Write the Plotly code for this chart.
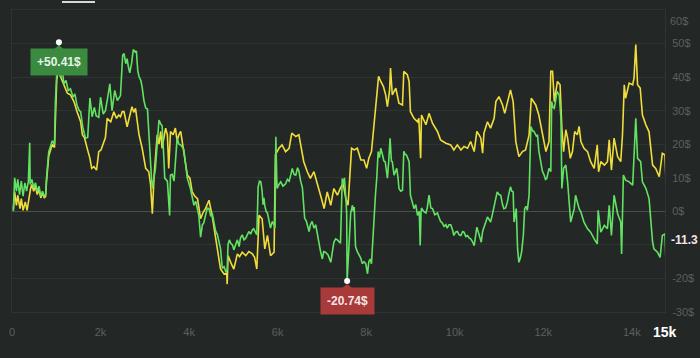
import plotly.graph_objects as go

# ---------------- data (x in thousands of trades, y in $) ----------------
green_x = [0.03,0.06,0.10,0.13,0.17,0.21,0.25,0.29,0.33,0.37,0.40,0.41,0.45,0.49,0.53,0.57,0.61,0.65,0.69,0.73,
           0.76,0.78,0.83,0.88,0.91,0.96,0.98,1.01,1.04,1.06,1.08,1.10,1.14,1.17,1.22,1.27,1.32,1.38,1.42,1.47,
           1.52,1.55,1.60,1.66,1.71,1.76,1.81,1.86,1.90,1.96,2.00,2.06,2.11,2.15,2.21,2.26,2.32,2.38,2.45,2.50,
           2.53,2.57,2.60,2.63,2.66,2.70,2.74,2.78,2.81,2.84,2.87,2.91,2.94,2.98,3.02,3.06,3.08,3.12,3.15,3.17,
           3.21,3.24,3.28,3.32,3.36,3.39,3.43,3.45,3.51,3.54,3.56,3.58,3.62,3.66,3.70,3.73,3.77,3.81,3.88,3.92,
           3.96,4.03,4.07,4.11,4.15,4.19,4.22,4.26,4.30,4.33,4.37,4.41,4.45,4.49,4.52,4.56,4.60,4.64,4.71,4.75,
           4.79,4.83,4.86,4.88,4.91,4.94,4.98,5.01,5.05,5.09,5.13,5.16,5.20,5.24,5.28,5.32,5.35,5.39,5.43,5.46,
           5.50,5.53,5.56,5.59,5.62,5.65,5.67,5.69,5.71,5.74,5.77,5.80,5.84,5.88,5.92,5.94,5.96,5.98,5.99,6.03,
           6.07,6.12,6.18,6.22,6.26,6.30,6.33,6.37,6.41,6.45,6.48,6.52,6.56,6.61,6.65,6.71,6.74,6.78,6.82,6.86,
           6.90,6.93,6.97,7.01,7.04,7.08,7.14,7.20,7.24,7.27,7.31,7.35,7.42,7.46,7.49,7.51,7.54,7.56,7.57,7.59,
           7.61,7.63,7.65,7.69,7.71,7.73,7.76,7.80,7.84,7.88,7.91,7.95,7.99,8.03,8.06,8.09,8.12,8.14,8.16,8.21,
           8.24,8.27,8.30,8.33,8.37,8.40,8.43,8.46,8.48,8.51,8.54,8.57,8.59,8.63,8.66,8.69,8.72,8.74,8.78,8.82,
           8.85,8.88,8.91,8.94,8.97,9.00,9.04,9.08,9.12,9.16,9.20,9.22,9.24,9.25,9.30,9.35,9.38,9.42,9.46,9.50,
           9.55,9.61,9.65,9.68,9.72,9.76,9.80,9.83,9.87,9.91,9.95,9.98,10.02,10.06,10.10,10.14,10.18,10.21,10.25,10.29,
           10.33,10.36,10.40,10.44,10.50,10.55,10.60,10.63,10.66,10.70,10.74,10.78,10.81,10.85,10.89,10.93,10.96,11.00,11.04,11.08,
           11.11,11.15,11.19,11.22,11.26,11.29,11.32,11.34,11.37,11.39,11.42,11.45,11.48,11.51,11.55,11.58,11.61,11.64,11.68,11.72,
           11.76,11.79,11.84,11.87,11.90,11.94,11.98,12.02,12.05,12.08,12.13,12.17,12.19,12.22,12.25,12.28,12.31,12.36,12.40,12.42,
           12.46,12.51,12.55,12.62,12.70,12.73,12.81,12.85,12.92,13.00,13.07,13.15,13.22,13.24,13.30,13.38,13.45,13.49,13.54,13.60,
           13.68,13.75,13.77,13.81,13.86,13.94,14.02,14.09,14.13,14.20,14.24,14.32,14.39,14.47,14.50,14.58,14.64,14.69,14.75,14.77]
green_y = [0,10,6,9.5,5,9,4.5,8.5,6,9,20.4,8,9.5,7,8.5,6,7.5,4.5,6,4.5,
           5,10,17.8,20,21,20,32.7,40.7,45,50.41,41,40,42,38,39,36,36.5,34,35,31.5,
           30,29.7,25,21.8,22,33.8,28.2,31,28.5,28,34,29,30,33,38,30,36,33,34.5,46.5,
           47,44,45.5,43,41.3,44,48.2,47.5,47.8,42,40.1,39,37,33,30.8,30.5,25,14.8,10,6.8,
           11,12.8,20,27.2,26,25.5,16,9.9,9,4,-1.2,10.8,11,9,16,21.8,20,19.8,18.5,14,
           9.9,6.8,4,1.8,3,0,-1.2,-7.7,-4,-3.5,-1,1,0.8,-1.5,-0.5,-3,-5.9,-7,-11.1,-17,
           -16.5,-18,-17.5,-9.8,-8.5,-9.5,-10,-11.5,-10,-8.5,-10.5,-8,-7,-8.5,-8,-7,-6,-6.8,-5.5,-5.2,
           -6.5,-7,7.3,9,8.8,6,2,4,1.7,0,-0.5,-3,-5,-3,-4,-5,22.2,10,6.8,8,
           8.8,7.5,8.2,9.5,9,11,12.8,11,10.8,13,12,9,7,-2,-3,-6,-4,-3,-5,-4,
           -7,-10,-12,-14.2,-12,-12.2,-13,-15.2,-12,-9.2,-8.2,-8.5,-9.5,9.8,8,10,4,-0.6,-20.74,-16,
           -12,-5,-0.6,1.8,0,1.3,-10.5,-12,-13.2,-14,-15.6,-15,-15.6,-18.6,-15,-14.2,-15.6,-10,-4.6,5,
           10,17.8,16,18.8,16.8,15,14.8,12,9.9,15,21.8,15,14.8,10.8,12,12.8,10,6.8,6,6.3,
           17.9,17,16.8,16,14.8,4.8,3,0.8,2,-1.2,0,-10.2,0,1,0,-0.5,1,4.8,1,0.8,
           -1,-0.5,-2,-3,-3.5,-4.5,-4,-5,-4,-4,-5.5,-7.2,-6.2,-6,-7,-7.2,-6,-6.2,-7.5,-7.2,
           -8,-8.2,-9,-10.2,-4.7,-7.2,-9.2,-6,-4.7,-3,-1.7,-2.5,-3.2,-1,1.8,4,5.8,5,4.8,2,
           0.8,1,2.8,5,7.3,6,5.8,-3.2,0,0.8,-11.2,-15.2,-14,-12.2,-7.2,0.8,1.5,0.3,4.8,25.3,
           24,23.8,22.5,22.8,18,14.8,12,10.8,9.5,9.8,12.8,11.8,32.7,31,30.7,33,35.7,34.7,27.7,6.8,
           12.8,13.8,8.8,-3.2,0.8,4.8,0.8,-0.2,-3.2,-5.2,-6.2,-8.2,-9.7,0.3,-6.2,-4.2,-5.2,1.8,-7.2,4.8,
           -0.7,-3.2,-12.7,10.8,9.3,8.8,7.8,27.7,15.8,14.8,8.8,6.8,3.8,-9.2,-11.2,-12.2,-13.7,-7.2,-6.7,-14.2]

yellow_x = [0.03,0.06,0.10,0.13,0.18,0.21,0.25,0.30,0.34,0.38,0.42,0.45,0.49,0.53,0.57,0.61,0.65,0.69,0.73,0.76,
            0.78,0.83,0.88,0.91,0.96,0.98,1.01,1.04,1.07,1.10,1.17,1.25,1.32,1.40,1.47,1.55,1.59,1.64,1.70,1.76,
            1.80,1.85,1.91,1.96,2.01,2.07,2.11,2.15,2.23,2.30,2.36,2.41,2.45,2.49,2.53,2.60,2.66,2.71,2.75,2.79,
            2.83,2.87,2.94,2.98,3.02,3.09,3.13,3.17,3.21,3.28,3.32,3.36,3.39,3.47,3.51,3.54,3.58,3.64,3.69,3.73,
            3.77,3.81,3.88,3.96,4.02,4.07,4.13,4.19,4.26,4.32,4.37,4.45,4.52,4.58,4.64,4.71,4.79,4.85,4.86,4.88,
            4.94,5.01,5.05,5.09,5.14,5.20,5.28,5.35,5.43,5.48,5.53,5.58,5.65,5.71,5.77,5.84,5.92,5.95,6.03,6.10,
            6.18,6.26,6.32,6.41,6.48,6.53,6.59,6.67,6.74,6.82,6.89,6.99,7.05,7.12,7.20,7.27,7.35,7.42,7.48,7.54,
            7.59,7.61,7.67,7.73,7.80,7.88,7.95,8.01,8.06,8.12,8.18,8.21,8.28,8.33,8.39,8.44,8.48,8.53,8.55,8.59,
            8.67,8.74,8.82,8.85,8.93,8.97,9.00,9.08,9.16,9.19,9.23,9.25,9.35,9.42,9.50,9.61,9.68,9.80,9.91,9.98,
            10.06,10.14,10.21,10.29,10.36,10.44,10.50,10.55,10.59,10.63,10.66,10.74,10.81,10.89,10.93,11.00,11.08,11.13,11.19,11.26,
            11.32,11.38,11.45,11.53,11.60,11.68,11.73,11.83,11.90,11.98,12.06,12.13,12.17,12.21,12.25,12.32,12.38,12.42,12.46,12.51,
            12.55,12.61,12.66,12.71,12.77,12.81,12.85,12.92,13.00,13.07,13.15,13.22,13.25,13.30,13.38,13.45,13.49,13.54,13.60,13.68,
            13.75,13.79,13.83,13.86,13.94,14.02,14.05,14.09,14.13,14.19,14.24,14.32,14.39,14.47,14.54,14.62,14.69,14.75,14.77]
yellow_y = [0.5,5.8,1.8,4.8,0.8,3.8,0.3,2.8,0.3,3.8,6.8,8,6,7.5,5,6.5,4,5.5,4,4.5,
            9,16.5,19,20,19,31,39,42,41,39.7,37.7,35.2,34.7,32.7,29.7,26.7,22.8,21.8,18.7,15.8,
            12.8,13.3,12.3,17.8,18.3,20.8,22,27.7,26.7,29.7,27.7,28.7,28.2,29.7,29.7,25.2,28.7,31.2,29.5,30.7,
            26.7,22.8,18.8,15.8,12.8,11.8,8,-0.7,10.8,22.8,20,23.8,18.8,24.8,22.8,12.8,23.8,22.8,24.8,21,
            22.8,23.8,17.8,10.8,9.8,5.8,4.5,3.8,-2.2,-0.2,0.8,3.3,-1.2,-6.2,-10.2,-17.2,-18.7,-18.4,-21.7,-13.2,
            -15.2,-17.2,-15,-12.7,-13.5,-12.2,-13.2,-12,-12.7,-13.7,-17.2,-1.2,-2.2,-11.2,-7.2,-13.2,-12.2,16.8,18.8,19.8,
            17.8,18.8,23.3,22.3,22.8,18.8,14.8,11.8,9.8,11.8,8.8,3.8,0.8,5.8,1.8,6.8,4.8,7,8.3,3.8,
            1.8,5.8,18.8,18.3,18.8,15.3,15.3,12.8,15.8,17.8,25.8,30.7,40.2,38.7,37.2,34.7,31.2,36.2,42.7,34.7,
            36.7,32.2,31.7,41.7,40.7,38.7,29.7,27.7,26.7,27.7,15.8,28.7,25.8,29.2,26.2,23.8,21.3,20.3,19.8,18.3,
            19.8,18.3,19.3,18.8,20.8,17.8,23.8,22.8,21.8,17.3,23.3,26.7,24.8,27.7,32.7,34.2,31.7,29.2,32.7,36.2,
            32.7,20.8,16.3,17.8,18.3,22.8,33.7,31.7,28.7,22.8,17.8,20.8,41.7,41.7,32.7,38.7,37.7,24.8,17.8,24.3,
            21.8,15.8,17.8,23.8,22.8,25.3,20.8,18.8,17.8,14.8,12.8,19.8,11.8,14.8,13.8,14.8,21.3,12.3,21.8,16.3,
            14.8,22.8,37.7,33.7,38.2,37.7,39.7,49.7,37.7,36.7,28.7,25.7,23.7,13.8,12.8,10.3,17.3,16.8,9.8]

x_tick_vals = [0, 2, 4, 6, 8, 10, 12, 14]
x_tick_text = ["0", "2k", "4k", "6k", "8k", "10k", "12k", "14k"]
y_tick_vals = [-30, -20, -10, 0, 10, 20, 30, 40, 50, 60]
y_tick_text = ["-30$", "-20$", "", "0$", "10$", "20$", "30$", "40$", "50$", ""]
y_top_label = "60$"

max_label = "+50.41$"
min_label = "-20.74$"
last_label = "-11.3"
end_label = "15k"

# -------------------------------------------------------------------------
BG = "#232826"
GRID = "#2e3431"
TICK = "#5a605d"
GREEN = "#62e262"
YELLOW = "#f0dd3a"
FONT = "Liberation Sans, Arial, sans-serif"

imax = green_y.index(max(green_y))
imin = green_y.index(min(green_y))
pmax = (green_x[imax], green_y[imax])
pmin = (green_x[imin], green_y[imin])

fig = go.Figure()
fig.add_trace(go.Scatter(x=yellow_x, y=yellow_y, mode="lines",
                         line=dict(color=YELLOW, width=1.6), hoverinfo="skip"))
fig.add_trace(go.Scatter(x=green_x, y=green_y, mode="lines",
                         line=dict(color=GREEN, width=1.6), hoverinfo="skip"))
fig.add_trace(go.Scatter(x=[pmax[0], pmin[0]], y=[pmax[1], pmin[1]], mode="markers",
                         marker=dict(color="white", size=6), hoverinfo="skip"))

fig.update_layout(
    width=700, height=358,
    margin=dict(l=12, r=35, t=10, b=46),
    paper_bgcolor=BG, plot_bgcolor=BG,
    showlegend=False,
    font=dict(family=FONT, size=11, color=TICK),
    xaxis=dict(range=[0, 14.75], tickvals=x_tick_vals, ticktext=x_tick_text,
               showgrid=False, zeroline=False, showline=True, linecolor=GRID, mirror=True,
               ticks="", tickfont=dict(size=11, color=TICK), automargin=False,
               ticklabelstandoff=10),
    yaxis=dict(range=[-30, 60], side="right", tickvals=y_tick_vals, ticktext=y_tick_text,
               showgrid=True, gridcolor=GRID, gridwidth=1,
               zeroline=True, zerolinecolor="#4b504e", zerolinewidth=1,
               showline=True, linecolor=GRID, mirror=True, ticks="",
               tickfont=dict(size=11, color=TICK), automargin=False,
               ticklabelstandoff=4),
)

# top y label, drawn just below its gridline as in the original
fig.add_annotation(x=1, xref="paper", xanchor="left", xshift=3, y=60, yref="y",
                   yanchor="middle", yshift=-11, text=y_top_label, showarrow=False,
                   font=dict(family=FONT, size=11, color=TICK))

# value boxes
fig.add_annotation(x=pmax[0], y=pmax[1], text="<b>" + max_label + "</b>", showarrow=False,
                   yanchor="top", yshift=-6, bgcolor="#3a8a40", borderpad=6,
                   font=dict(family=FONT, size=12, color="#e8f4e8"))
fig.add_annotation(x=pmin[0], y=pmin[1], text="<b>" + min_label + "</b>", showarrow=False,
                   yanchor="top", yshift=-6, bgcolor="#a83a3a", borderpad=6,
                   font=dict(family=FONT, size=12, color="#f6e6e6"))
# pointer triangles
for (px, py), col in [(pmax, "#3a8a40"), (pmin, "#a83a3a")]:
    fig.add_shape(type="path", xref="x", yref="y", xsizemode="pixel", ysizemode="pixel",
                  xanchor=px, yanchor=py, path="M -5 -7 L 5 -7 L 0 -3 Z",
                  fillcolor=col, line=dict(width=0))

# last value label on right
fig.add_annotation(x=1, xref="paper", xanchor="left", xshift=4, y=-8.4, yref="y",
                   text="<b>" + last_label + "</b>", showarrow=False,
                   font=dict(family=FONT, size=12, color="#f3e6e6"))
# current x label
fig.add_annotation(x=1, xref="paper", xanchor="center", y=0, yref="paper", yanchor="top",
                   yshift=-10, text="<b>" + end_label + "</b>", showarrow=False,
                   font=dict(family=FONT, size=14, color="#ffffff"))
# top tab underline
fig.add_shape(type="line", xref="paper", yref="paper", x0=(62 - 12) / 653, x1=(95 - 12) / 653,
              y0=(312 - 2) / 302, y1=(312 - 2) / 302, line=dict(color="#d8d8d8", width=2))

fig.write_html("out.html", config={"displayModeBar": False}, post_script=(
    "document.body.style.margin='0';document.body.style.padding='0';"
    "document.body.style.background='#232826';document.body.style.overflow='hidden';"))
